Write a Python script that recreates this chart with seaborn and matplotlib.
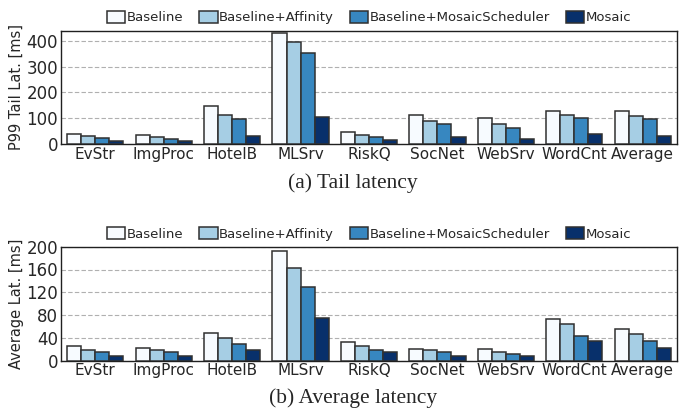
import pandas as pd
import matplotlib.pyplot as plt
import seaborn as sns

# Benchmarks and configurations
apps = ["EvStr", "ImgProc", "HotelB", "MLSrv", "RiskQ", "SocNet", "WebSrv", "WordCnt", "Average"]
configs = ["Baseline", "Baseline+Affinity", "Baseline+MosaicScheduler", "Mosaic"]

# P99 tail latency [ms]
tail_baseline = [37, 34, 146, 432, 48, 111, 99, 129, 129]
tail_affinity = [30, 26, 112, 394, 35, 88, 76, 111, 108]
tail_sched = [22, 21, 97, 351, 28, 76, 62, 102, 97]
tail_mosaic = [12, 10, 31, 103, 17, 28, 19, 37, 32]

# Average latency [ms]
avg_baseline = [26, 22, 49, 193, 33, 20, 20, 73, 55]
avg_affinity = [19, 18, 40, 163, 26, 18, 16, 64, 46]
avg_sched = [16, 15, 30, 129, 18, 16, 12, 44, 35]
avg_mosaic = [9, 9, 18, 75, 15, 8, 9, 35, 22]

colors = ["#f7fbff", "#a6cee4", "#3787c0", "#08306b"]


def to_long(series):
    rows = []
    for cfg, vals in zip(configs, series):
        for app, v in zip(apps, vals):
            rows.append({"app": app, "config": cfg, "value": v})
    return pd.DataFrame(rows)


df_tail = to_long([tail_baseline, tail_affinity, tail_sched, tail_mosaic])
df_avg = to_long([avg_baseline, avg_affinity, avg_sched, avg_mosaic])

sns.set_style("white")
plt.rcParams["font.family"] = ["DejaVu Sans"]

fig = plt.figure(figsize=(6.99, 4.12), dpi=100)
ax1 = fig.add_axes([61 / 699, 1 - 144 / 412, 616 / 699, 113.5 / 412])
ax2 = fig.add_axes([61 / 699, 1 - 360.7 / 412, 616 / 699, 114 / 412])

panels = [
    (ax1, df_tail, "P99 Tail Lat. [ms]", 440, [0, 100, 200, 300, 400], "(a) Tail latency", 183),
    (ax2, df_avg, "Average Lat. [ms]", 200, [0, 40, 80, 120, 160, 200], "(b) Average latency", 398),
]

for ax, df, ylabel, ymax, yticks, caption, cap_y in panels:
    sns.barplot(data=df, x="app", y="value", hue="config", palette=colors,
                saturation=1, width=0.82, edgecolor="#303030", linewidth=1.1, ax=ax,
                legend=True, zorder=3)
    ax.set_ylim(0, ymax)
    ax.set_xlim(-0.5, len(apps) - 0.5)
    ax.set_yticks(yticks)
    ax.yaxis.grid(True, linestyle=(0, (4, 2)), color="#b0b0b0", linewidth=0.8, zorder=0)
    ax.set_axisbelow(True)
    ax.set_xlabel("")
    ax.set_ylabel(ylabel, fontsize=10.5, labelpad=2)
    ax.tick_params(axis="x", labelsize=11, length=0, pad=2)
    ax.tick_params(axis="y", labelsize=12, length=0, pad=2)
    for s in ax.spines.values():
        s.set_visible(True)
        s.set_color("#202020")
        s.set_linewidth(1.0)
    ax.legend(loc="lower center", bbox_to_anchor=(0.5, 0.995), ncol=4, frameon=False,
              fontsize=9.5, handlelength=1.4, handleheight=1.0, handletextpad=0.1,
              columnspacing=1.2, borderaxespad=0.1)
    fig.text(353 / 699, 1 - cap_y / 412, caption, ha="center", va="center",
             fontsize=15.5, family="Liberation Serif")

fig.savefig("out.png", dpi=100)
